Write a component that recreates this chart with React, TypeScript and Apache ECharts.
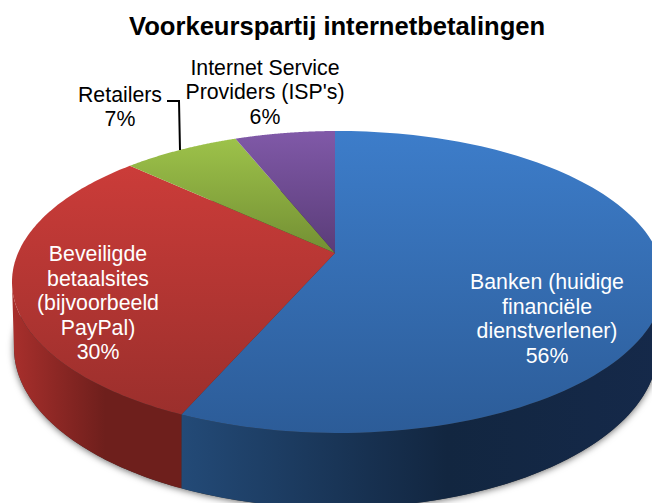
import React, { useEffect, useRef } from "react";
import * as echarts from "echarts";

const titleText = "Voorkeurspartij internetbetalingen";
const categories = ["Banken (huidige\nfinanciële\ndienstverlener)", "Beveiligde\nbetaalsites\n(bijvoorbeeld\nPayPal)", "Retailers", "Internet Service\nProviders (ISP's)"];
const values = [56, 30, 7, 6];

// Styling and layout, kept apart from the data
const topColors = [["#3d7dca", "#2c5c98"], ["#cb3c39", "#9b2f2c"], ["#9dc24a", "#738f33"], ["#8059a8", "#5a3c78"]];
const wallColors = [["#234a77", "#122640", "#15294a"], ["#a82f2c", "#6e1f1c", "#6e1f1c"], ["#6a8530", "#6a8530", "#6a8530"], ["#4f3569", "#4f3569", "#4f3569"]];
const labelPos = [[547, 319], [98, 303], [120, 107], [265, 92]];
const labelColor = ["#ffffff", "#ffffff", "#000000", "#000000"];
const apex = { x: 335, y: 253 };
const topEll = { x: 338, y: 282, a: 326, b: 151 };
const botEll = { x: 336, y: 348, a: 322, b: 160 };
const persp = { p: 0.192, A: 145.4, C: 316 };

function rimPhi(theta: number) {
  const u = Math.sin(theta), v = Math.cos(theta), w = 1 + persp.p * v;
  const dx = (persp.C * u) / w, dy = -(persp.A * v) / w;
  const ox = (apex.x - topEll.x) / topEll.a, oy = (apex.y - topEll.y) / topEll.b;
  const rx = dx / topEll.a, ry = dy / topEll.b;
  const a = rx * rx + ry * ry, b = 2 * (ox * rx + oy * ry), c = ox * ox + oy * oy - 1;
  const t = (-b + Math.sqrt(b * b - 4 * a * c)) / (2 * a);
  return Math.atan2(oy + t * ry, ox + t * rx);
}
const onEll = (e: any, phi: number) => [e.x + e.a * Math.cos(phi), e.y + e.b * Math.sin(phi)];

const vGrad = (c: string[]) => ({ type: "linear", x: 0, y: 0, x2: 0, y2: 1, colorStops: [{ offset: 0, color: c[0] }, { offset: 1, color: c[1] }] });
const hGrad = (c: string[]) => ({ type: "linear", x: 0, y: 0, x2: 1, y2: 0, colorStops: [{ offset: 0, color: c[0] }, { offset: 0.55, color: c[1] }, { offset: 1, color: c[2] }] });

function renderItem(params: any, api: any) {
  const i = params.dataIndex;
  const total = values.reduce((s, v) => s + v, 0);
  const before = values.slice(0, i).reduce((s, v) => s + v, 0);
  const t0 = (before / total) * Math.PI * 2;
  const t1 = ((before + api.value(0)) / total) * Math.PI * 2;
  const n = 120;
  const rim: number[][] = [];
  const phis: number[] = [];
  for (let k = 0; k <= n; k++) {
    const phi = rimPhi(t0 + ((t1 - t0) * k) / n);
    phis.push(phi);
    rim.push(onEll(topEll, phi));
  }
  const children: any[] = [];
  if (i === 0) {
    const outline: number[][] = [];
    for (let k = 0; k < 180; k++) outline.push(onEll(botEll, (k / 180) * Math.PI * 2));
    children.push({
      type: "polygon",
      shape: { points: outline },
      style: { fill: "#333", shadowColor: "rgba(0,0,0,0.6)", shadowBlur: 7, shadowOffsetX: 0, shadowOffsetY: 1 },
    });
  }
  // side wall: only the part of the rim at the front of the pie
  const front = phis.filter((p) => Math.sin(p) >= 0);
  if (front.length > 1) {
    const wall = front.map((p) => onEll(topEll, p)).concat(front.slice().reverse().map((p) => onEll(botEll, p)));
    children.push({ type: "polygon", shape: { points: wall }, style: { fill: hGrad(wallColors[i]) } });
  }
  children.push({
    type: "polygon",
    shape: { points: [[apex.x, apex.y], ...rim] },
    style: { fill: vGrad(topColors[i]) },
  });
  if (i === 2) {
    children.push({
      type: "polyline",
      shape: { points: [[167, 101], [179, 101], [180, 150]] },
      style: { stroke: "#000", lineWidth: 2, fill: "none" },
      z2: 20,
    });
  }
  children.push({
    type: "text",
    x: labelPos[i][0],
    y: labelPos[i][1],
    z2: 30,
    style: {
      text: `${categories[i]}\n${api.value(0)}%`,
      fill: labelColor[i],
      font: "21.3px 'Liberation Sans'",
      lineHeight: 24.5,
      align: "center",
      verticalAlign: "middle",
    },
  });
  return { type: "group", children };
}

export default function App() {
  const ref = useRef<HTMLDivElement>(null);
  useEffect(() => {
    const chart = echarts.init(ref.current!, undefined, { renderer: "svg" });
    chart.setOption({
      animation: false,
      backgroundColor: "#ffffff",
      title: {
        text: titleText,
        left: 124,
        top: 8,
        textStyle: { fontFamily: "Liberation Sans", fontSize: 25.6, fontWeight: "bold", color: "#000" },
      },
      series: [
        {
          type: "custom",
          coordinateSystem: "none",
          renderItem,
          clip: false,
          silent: true,
          data: values.map((v, i) => ({ name: categories[i], value: [v] })),
        },
      ],
    });
    return () => chart.dispose();
  }, []);
  return <div ref={ref} style={{ position: "fixed", left: 0, top: 0, width: 652, height: 503 }} />;
}
